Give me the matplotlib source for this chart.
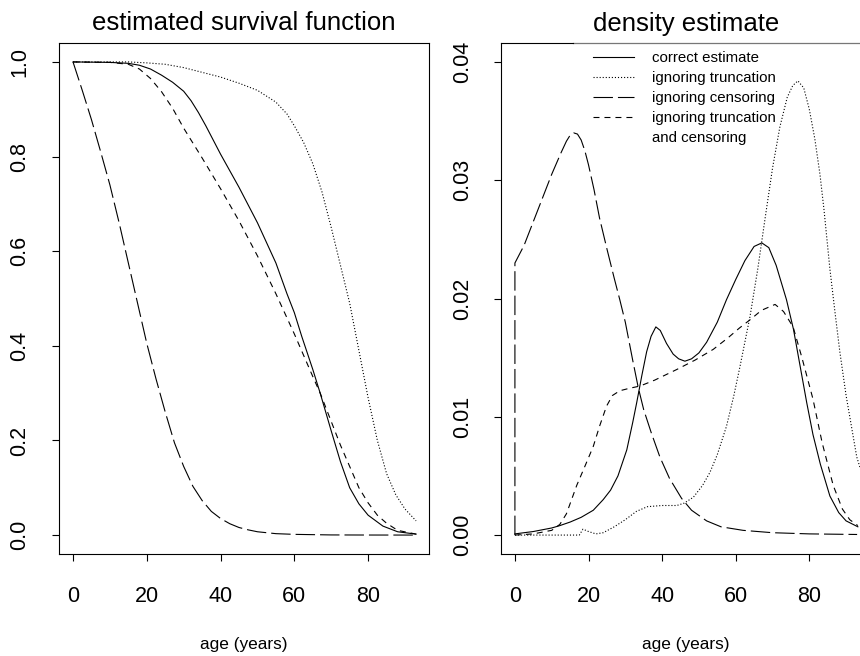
import numpy as np
import matplotlib
matplotlib.use("Agg")
from matplotlib import pyplot as plt
from matplotlib.lines import Line2D

plt.rcParams['font.family'] = ['Liberation Sans', 'DejaVu Sans']
plt.rcParams['lines.scale_dashes'] = False

#---------------------------
# Data
#---------------------------

# estimated survival function
surv_correct_age = [0, 10, 15, 18, 21, 24, 27, 30, 32, 34, 36, 38, 40, 45, 50, 55, 58, 60, 62, 65, 67, 70, 72.5, 75, 77.5, 80, 84, 88, 93]
surv_correct = [1.0, 0.999, 0.997, 0.993, 0.985, 0.972, 0.957, 0.938, 0.918, 0.893, 0.865, 0.835, 0.805, 0.735, 0.66, 0.575, 0.51, 0.47, 0.42, 0.35, 0.30, 0.22, 0.155, 0.10, 0.066, 0.042, 0.019, 0.007, 0.002]

surv_notrunc_age = [0, 15, 20, 25, 30, 35, 40, 45, 50, 55, 58, 60, 62.5, 65, 67.5, 70, 72.5, 75, 77.5, 80, 82.5, 85, 87.5, 90, 93]
surv_notrunc = [1.0, 1.0, 0.998, 0.995, 0.988, 0.978, 0.968, 0.955, 0.94, 0.915, 0.89, 0.865, 0.83, 0.785, 0.725, 0.65, 0.57, 0.49, 0.39, 0.29, 0.20, 0.13, 0.085, 0.055, 0.03]

surv_nocens_age = [0, 2.5, 5, 7.5, 10, 12.5, 15, 17.5, 20, 22.5, 25, 27.5, 30, 32.5, 35, 37.5, 40, 42.5, 45, 47.5, 50, 55, 60, 70, 80, 93]
surv_nocens = [1.0, 0.94, 0.878, 0.81, 0.74, 0.66, 0.575, 0.49, 0.405, 0.33, 0.26, 0.195, 0.145, 0.103, 0.073, 0.05, 0.035, 0.024, 0.016, 0.011, 0.007, 0.003, 0.0015, 0.0003, 0.0001, 0.0]

surv_naive_age = [0, 10, 15, 18, 21, 24, 27, 30, 35, 40, 45, 50, 55, 60, 65, 67, 70, 72.5, 75, 77.5, 80, 82.5, 85, 88, 93]
surv_naive = [1.0, 0.999, 0.995, 0.985, 0.965, 0.937, 0.902, 0.86, 0.797, 0.732, 0.664, 0.59, 0.51, 0.425, 0.335, 0.30, 0.24, 0.19, 0.145, 0.10, 0.068, 0.042, 0.025, 0.01, 0.002]

# density estimate
dens_correct_age = [0, 5, 10, 12.2, 15, 18, 21.3, 24, 26, 28, 30.4, 32, 33.1, 34.5, 35.8, 37, 38.3, 39.5, 41.2, 43, 44.5, 46.2, 48, 50, 52.1, 55, 57.5, 60, 62.5, 65, 67.1, 69, 71, 73.8, 75.7, 77.5, 79.3, 81, 83, 85.6, 88, 90, 93.2]
dens_correct = [0.0001, 0.0003, 0.0006, 0.0008, 0.0011, 0.0015, 0.0021, 0.003, 0.0038, 0.005, 0.0072, 0.0095, 0.0112, 0.0135, 0.0155, 0.0168, 0.0176, 0.0173, 0.0162, 0.0153, 0.0149, 0.0147, 0.0149, 0.0154, 0.0163, 0.018, 0.0199, 0.0216, 0.0232, 0.0244, 0.0247, 0.0243, 0.0228, 0.0199, 0.0174, 0.0143, 0.0112, 0.0085, 0.006, 0.0033, 0.0019, 0.0012, 0.0007]

dens_notrunc_age = [0, 17.5, 18.5, 20, 22, 24, 27, 30, 33, 36, 40, 44, 46, 48.5, 51, 53, 55, 57.5, 59.5, 61.2, 63.9, 66, 68, 70, 72, 74, 75.5, 76.9, 78.5, 80, 81.5, 82.9, 84, 85.6, 87, 88.3, 90, 92.9, 94]
dens_notrunc = [0.0, 0.0, 0.0005, 0.0003, 0.0001, 0.0002, 0.0007, 0.0013, 0.002, 0.0024, 0.0025, 0.0025, 0.0027, 0.0032, 0.0042, 0.0053, 0.0068, 0.0092, 0.0118, 0.0143, 0.0185, 0.0225, 0.0268, 0.031, 0.0345, 0.037, 0.038, 0.0384, 0.0378, 0.036, 0.0335, 0.0305, 0.0275, 0.0225, 0.0188, 0.0155, 0.0118, 0.0066, 0.0055]

dens_nocens_age = [0, 0, 2.5, 5, 7.5, 10, 12.5, 14, 15, 16, 17, 18, 19, 20, 21.5, 23, 25, 27, 28.5, 30, 32, 33.5, 35, 37, 39.4, 42, 45.3, 48, 52.1, 56, 62, 70, 80, 93]
dens_nocens = [0.0, 0.023, 0.0245, 0.0265, 0.0285, 0.0305, 0.0323, 0.0333, 0.0338, 0.034, 0.0339, 0.0334, 0.0325, 0.0313, 0.0292, 0.0268, 0.0242, 0.0217, 0.0199, 0.018, 0.0148, 0.0125, 0.0106, 0.0087, 0.0066, 0.0048, 0.0031, 0.0021, 0.0012, 0.0007, 0.0004, 0.0002, 0.0001, 0.00005]

dens_naive_age = [0, 5, 10, 12.2, 14, 16.8, 19, 21.3, 23, 24.9, 26.5, 28.5, 31, 34, 38, 44, 49, 53.9, 58, 61, 63.9, 67, 70.7, 73, 75.6, 78, 81, 83.5, 86.5, 89, 91, 93.2]
dens_naive = [0.0, 0.0001, 0.0004, 0.0009, 0.0018, 0.0042, 0.0058, 0.0075, 0.0092, 0.0109, 0.0118, 0.0122, 0.0124, 0.0126, 0.0131, 0.014, 0.0148, 0.0157, 0.0167, 0.0175, 0.0182, 0.019, 0.0195, 0.0189, 0.0176, 0.015, 0.0115, 0.0078, 0.0042, 0.0022, 0.0013, 0.0008]

x_ticks = [0, 20, 40, 60, 80]
surv_ticks = [0.0, 0.2, 0.4, 0.6, 0.8, 1.0]
dens_ticks = [0.00, 0.01, 0.02, 0.03, 0.04]

legend_labels = ['correct estimate', 'ignoring truncation', 'ignoring censoring',
                 'ignoring truncation', 'and censoring']

#---------------------------
# Styles (R lty look-alikes)
#---------------------------
SOLID = '-'
DOTTED = (0, (0.8, 1.4))
LONGDASH = (0, (14, 3.6))
DASHED = (0, (4.3, 3.6))
LW = 0.8

fig = plt.figure(figsize=(8.6, 6.56), dpi=100)
ax1 = fig.add_axes([59 / 860, 102 / 656, 370 / 860, 511 / 656])
ax2 = fig.add_axes([501.3 / 860, 102 / 656, 368.7 / 860, 511 / 656])

ax1.plot(surv_correct_age, surv_correct, color='k', lw=LW, ls=SOLID)
ax1.plot(surv_notrunc_age, surv_notrunc, color='k', lw=LW, ls=DOTTED)
ax1.plot(surv_nocens_age, surv_nocens, color='k', lw=LW, ls=LONGDASH)
ax1.plot(surv_naive_age, surv_naive, color='k', lw=LW, ls=DASHED)

ax2.plot(dens_correct_age, dens_correct, color='k', lw=LW, ls=SOLID)
ax2.plot(dens_notrunc_age, dens_notrunc, color='k', lw=LW, ls=DOTTED)
ax2.plot(dens_nocens_age, dens_nocens, color='k', lw=LW, ls=LONGDASH)
ax2.plot(dens_naive_age, dens_naive, color='k', lw=LW, ls=DASHED)

ax1.set_xlim(-3.8, 96.5)
ax1.set_ylim(-0.04, 1.04)
ax2.set_xlim(-3.7, 96.5)
ax2.set_ylim(-0.0016, 0.0416)

ax1.set_yticks(surv_ticks)
ax1.set_yticklabels(['%.1f' % v for v in surv_ticks])
ax2.set_yticks(dens_ticks)
ax2.set_yticklabels(['%.2f' % v for v in dens_ticks])

for ax, title in [(ax1, 'estimated survival function'), (ax2, 'density estimate')]:
    ax.set_xticks(x_ticks)
    ax.set_xticklabels([str(v) for v in x_ticks])
    ax.tick_params(length=5, width=0.8, labelsize=15.5, color='k')
    ax.tick_params(axis='x', pad=18.3)
    ax.tick_params(axis='y', pad=15.5)
    plt.setp(ax.get_yticklabels(), rotation=90, va='center')
    for s in ax.spines.values():
        s.set_linewidth(0.8)
    ax.set_title(title, fontsize=18.5, pad=9)
    ax.set_xlabel('age (years)', fontsize=12.4)
    ax.xaxis.set_label_coords(0.5, -0.162)

# top edge of the right box turns grey where R's legend box sits on it
ax2.spines['top'].set_bounds(-3.7, 15.8)
ax2.axhline(0.0416, xmin=(15.8 + 3.7) / 100.2, xmax=1, color='#777777', lw=0.9, clip_on=False)

handles = [Line2D([], [], color='k', lw=LW, ls=SOLID),
           Line2D([], [], color='k', lw=LW, ls=DOTTED),
           Line2D([], [], color='k', lw=LW, ls=LONGDASH),
           Line2D([], [], color='k', lw=LW, ls=DASHED),
           Line2D([], [], ls='none')]
ax2.legend(handles, legend_labels, loc='upper left', bbox_to_anchor=(0.249, 0.984),
           frameon=False, fontsize=10.8, handlelength=2.7, handletextpad=1.25,
           labelspacing=0.4, borderpad=0, borderaxespad=0)

fig.savefig('out.png', dpi=100)
